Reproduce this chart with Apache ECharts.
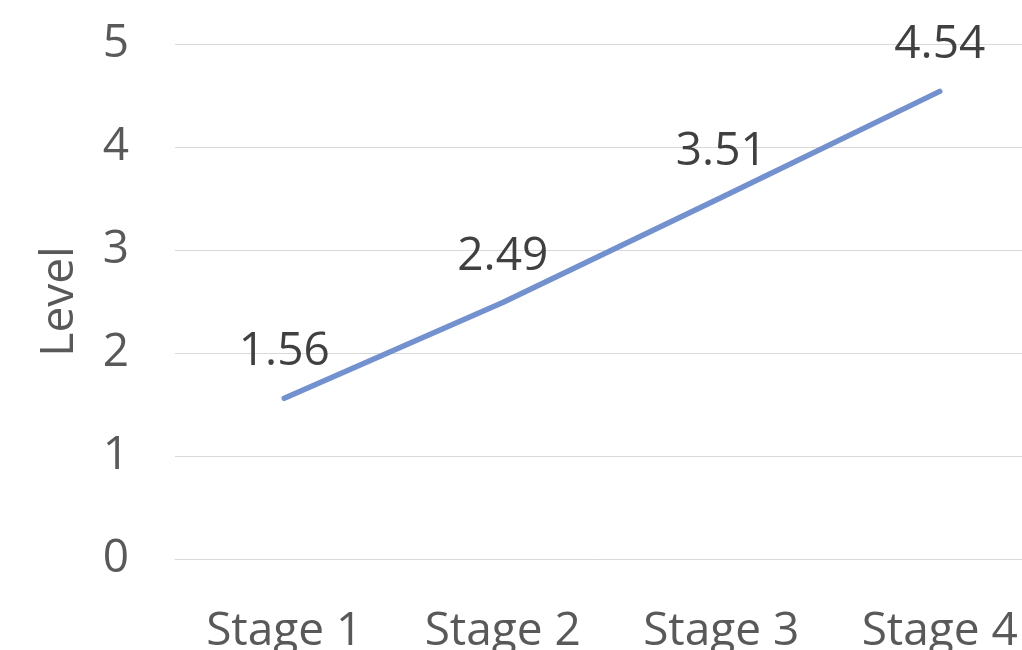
<!DOCTYPE html>
<html>
<head>
<meta charset="utf-8">
<script src="https://cdn.jsdelivr.net/npm/echarts@6/dist/echarts.min.js"></script>
<style>
  html, body { margin: 0; padding: 0; background: #fff; }
  #chart { width: 1022px; height: 650px; }
</style>
</head>
<body>
<div id="chart"></div>
<script>
// Stage categories and the level reached at each stage
const stages = ['Stage 1', 'Stage 2', 'Stage 3', 'Stage 4'];
const levels = [1.56, 2.49, 3.51, 4.54];
const yTicks = { min: 0, max: 5, interval: 1 };

const FONT = '"Open Sans", sans-serif';
const LINE_COLOR = '#7391ce';

const chart = echarts.init(document.getElementById('chart'), null, { renderer: 'canvas' });
chart.setOption({
  animation: false,
  backgroundColor: '#ffffff',
  // the plot runs past the right edge, so the last category band is cut off
  grid: { left: 175, top: 44, width: 874, height: 515, outerBoundsMode: 'none' },
  xAxis: {
    type: 'category',
    data: stages,
    boundaryGap: true,
    axisLine: { show: true, lineStyle: { color: '#d9d9d9', width: 1 } },
    axisTick: { show: false },
    axisLabel: { color: '#595959', fontSize: 46, fontFamily: FONT, margin: 50 }
  },
  yAxis: {
    type: 'value',
    min: yTicks.min,
    max: yTicks.max,
    interval: yTicks.interval,
    name: 'Level',
    nameLocation: 'middle',
    nameGap: 92,
    nameTextStyle: { color: '#595959', fontSize: 46, fontFamily: FONT },
    axisLine: { show: false },
    axisTick: { show: false },
    axisLabel: { color: '#595959', fontSize: 46, fontFamily: FONT, margin: 46 },
    splitLine: { lineStyle: { color: '#d9d9d9', width: 1 } }
  },
  series: [{
    type: 'line',
    data: levels,
    symbol: 'circle',
    symbolSize: 2,
    showSymbol: true,
    itemStyle: { color: LINE_COLOR },
    lineStyle: { color: LINE_COLOR, width: 5.5, cap: 'round' },
    label: {
      show: true,
      position: 'top',
      distance: 22,
      color: '#404040',
      fontSize: 46,
      fontFamily: FONT,
      formatter: p => p.value.toFixed(2)
    }
  }]
});
</script>
</body>
</html>
